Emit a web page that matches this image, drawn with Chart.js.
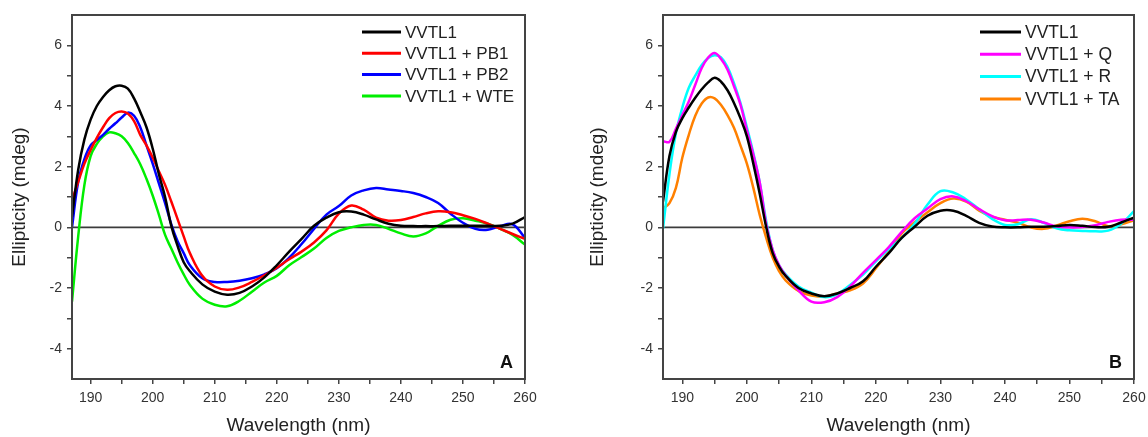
<!DOCTYPE html>
<html>
<head>
<meta charset="utf-8">
<script src="https://cdn.jsdelivr.net/npm/chart.js@4/dist/chart.umd.min.js"></script>
<style>
  body { margin: 0; background: #fff; }
  .panel { position: absolute; top: 0; width: 574px; height: 437px; }
</style>
</head>
<body>
<div class="panel" style="left:0"><canvas id="chartA" width="574" height="437"></canvas></div>
<div class="panel" style="left:574px"><canvas id="chartB" width="574" height="437"></canvas></div>
<script>
// wavelength grid (nm), shared by both panels
var wavelength = [187,188,189,190,191,192,193,194,195,196,197,198,199,200,201,202,203,204,205,206,
  208,210,212,214,216,218,220,222,224,226,228,230,232,234,236,238,240,242,244,246,248,250,252,254,256,258,260]

// panel A
var vvtl1A = [0.35,1.9,2.9,3.55,4.0,4.3,4.52,4.65,4.67,4.57,4.25,3.8,3.3,2.6,1.75,1.0,0.05,-0.6,-1.15,-1.45,
  -1.88,-2.12,-2.22,-2.16,-1.95,-1.65,-1.25,-0.8,-0.38,0.05,0.32,0.5,0.52,0.42,0.26,0.12,0.05,0.04,0.04,0.04,0.05,0.05,0.05,0.05,0.05,0.12,0.34]
var pb1 = [0.9,1.5,2.1,2.55,2.95,3.3,3.6,3.77,3.82,3.75,3.5,3.05,2.7,2.3,1.85,1.4,0.85,0.28,-0.3,-0.85,
  -1.6,-1.95,-2.06,-1.98,-1.8,-1.58,-1.33,-1.05,-0.8,-0.5,-0.1,0.45,0.72,0.58,0.32,0.22,0.24,0.34,0.46,0.53,0.5,0.4,0.28,0.12,-0.05,-0.22,-0.38]
var pb2 = [0.0,1.5,2.25,2.7,2.88,3.05,3.25,3.43,3.62,3.78,3.68,3.3,2.7,2.1,1.45,0.8,0.1,-0.45,-0.85,-1.25,
  -1.68,-1.8,-1.8,-1.76,-1.68,-1.55,-1.35,-1.0,-0.55,-0.05,0.42,0.7,1.05,1.22,1.3,1.25,1.2,1.13,1.0,0.8,0.45,0.15,-0.05,-0.08,0.04,0.1,-0.35]
var wte = [-2.45,-0.3,1.4,2.35,2.75,3.0,3.13,3.1,3.0,2.78,2.45,2.08,1.6,1.05,0.42,-0.25,-0.7,-1.15,-1.55,-1.9,
  -2.35,-2.55,-2.6,-2.42,-2.12,-1.82,-1.6,-1.25,-0.98,-0.7,-0.35,-0.12,0.0,0.08,0.08,-0.05,-0.2,-0.3,-0.2,0.05,0.25,0.3,0.22,0.12,-0.05,-0.25,-0.57]

// panel B
var vvtl1B = [0.85,2.35,3.15,3.6,3.95,4.27,4.55,4.78,4.93,4.8,4.52,4.1,3.6,3.0,2.1,1.1,0.0,-0.85,-1.3,-1.6,
  -2.0,-2.18,-2.27,-2.18,-2.0,-1.78,-1.3,-0.85,-0.35,0.02,0.38,0.55,0.55,0.38,0.15,0.03,0.0,0.0,0.02,0.02,0.04,0.08,0.05,0.01,0.02,0.16,0.32]
var q = [2.84,2.82,3.25,3.7,4.15,4.7,5.25,5.6,5.75,5.55,5.2,4.65,4.05,3.2,2.4,1.47,0.1,-0.75,-1.25,-1.58,
  -2.08,-2.45,-2.47,-2.3,-1.95,-1.5,-1.08,-0.65,-0.15,0.3,0.62,0.93,1.02,0.86,0.6,0.37,0.23,0.24,0.25,0.16,0.03,0.0,0.01,0.07,0.18,0.25,0.25]
var r = [-0.05,1.75,3.1,3.95,4.6,5.0,5.35,5.58,5.67,5.6,5.28,4.75,4.1,3.3,2.45,1.47,0.2,-0.75,-1.25,-1.55,
  -1.95,-2.15,-2.3,-2.2,-1.9,-1.56,-1.12,-0.72,-0.35,0.12,0.75,1.19,1.15,0.92,0.6,0.28,0.08,0.1,0.27,0.15,-0.03,-0.1,-0.12,-0.13,-0.11,0.12,0.53]
var ta = [0.62,0.8,1.3,2.3,3.05,3.68,4.08,4.28,4.25,4.03,3.7,3.28,2.7,2.1,1.3,0.4,-0.35,-1.0,-1.45,-1.75,
  -2.1,-2.25,-2.28,-2.18,-2.08,-1.85,-1.35,-0.8,-0.2,0.17,0.5,0.8,0.95,0.85,0.55,0.35,0.25,0.15,0.0,-0.05,0.06,0.2,0.28,0.2,0.04,0.1,0.23]

var xTicks = [190,195,200,205,210,215,220,225,230,235,240,245,250,255,260]
var yTicks = [-4,-3,-2,-1,0,1,2,3,4,5,6]

function pts(vals) {
  return wavelength.map(function(w, i) { return {x: w, y: vals[i]} })
}

function series(label, vals, color) {
  return {label: label, data: pts(vals), borderColor: color, backgroundColor: color,
    borderWidth: 2.5, pointRadius: 0, tension: 0.4, fill: false}
}

// frame, zero line, legend, panel letter
var decor = {
  id: 'decor',
  beforeDatasetsDraw: function(chart) {
    var a = chart.chartArea, ctx = chart.ctx
    var y0 = chart.scales.y.getPixelForValue(0)
    ctx.save()
    ctx.strokeStyle = '#3c3c3c'
    ctx.lineWidth = 1.8
    ctx.beginPath()
    ctx.moveTo(a.left, y0)
    ctx.lineTo(a.right, y0)
    ctx.stroke()
    ctx.restore()
  },
  afterDatasetsDraw: function(chart, args, opts) {
    var a = chart.chartArea, ctx = chart.ctx
    ctx.save()
    ctx.strokeStyle = '#444'
    ctx.lineWidth = 2
    ctx.strokeRect(a.left, a.top, a.right - a.left, a.bottom - a.top)

    ctx.font = opts.legendSize + 'px "Liberation Sans", Arial, sans-serif'
    ctx.textBaseline = 'middle'
    ctx.textAlign = 'left'
    chart.data.datasets.forEach(function(ds, i) {
      var y = a.top + opts.legendTop + i * opts.legendGap
      ctx.strokeStyle = ds.borderColor
      ctx.lineWidth = 3
      ctx.beginPath()
      ctx.moveTo(a.right - opts.lineStart, y)
      ctx.lineTo(a.right - opts.lineEnd, y)
      ctx.stroke()
      ctx.fillStyle = '#222'
      ctx.fillText(ds.label, a.right - opts.textStart, y + 1)
    })

    ctx.font = 'bold 18px "Liberation Sans", Arial, sans-serif'
    ctx.textAlign = 'right'
    ctx.textBaseline = 'alphabetic'
    ctx.fillStyle = '#111'
    ctx.fillText(opts.letter, a.right - 12, a.bottom - 11)
    ctx.restore()
  }
}

function makeChart(id, datasets, yWidth, rightPad, titlePad, deco) {
  return new Chart(document.getElementById(id), {
    type: 'line',
    data: {datasets: datasets},
    plugins: [decor],
    options: {
      responsive: false,
      animation: false,
      layout: {padding: {left: 0, right: rightPad, top: 15, bottom: 0}},
      plugins: {legend: {display: false}, tooltip: {enabled: false}, decor: deco},
      scales: {
        x: {
          type: 'linear', min: 187, max: 260,
          afterBuildTicks: function(s) { s.ticks = xTicks.map(function(v) { return {value: v} }) },
          afterFit: function(s) { s.height = 58; s.paddingRight = 0; s.paddingLeft = 0 },
          border: {display: false},
          grid: {drawOnChartArea: false, tickLength: 5, color: '#444', lineWidth: 1.5},
          ticks: {
            padding: 6, color: '#333', maxRotation: 0, autoSkip: false,
            font: {family: '"Liberation Sans", Arial, sans-serif', size: 14},
            callback: function(v) { return v % 10 === 0 ? String(v) : '' }
          },
          title: {display: true, text: 'Wavelength (nm)', color: '#222', padding: {top: 2, bottom: 0},
            font: {family: '"Liberation Sans", Arial, sans-serif', size: 19}}
        },
        y: {
          min: -5, max: 7,
          afterBuildTicks: function(s) { s.ticks = yTicks.map(function(v) { return {value: v} }) },
          afterFit: function(s) { s.width = yWidth },
          border: {display: false},
          grid: {drawOnChartArea: false, tickLength: 5, color: '#444', lineWidth: 1.5},
          ticks: {
            padding: 5, color: '#333', autoSkip: false,
            font: {family: '"Liberation Sans", Arial, sans-serif', size: 14},
            callback: function(v) { return v % 2 === 0 ? String(v) : '' }
          },
          title: {display: true, text: 'Ellipticity (mdeg)', color: '#222', padding: {top: titlePad, bottom: 0},
            font: {family: '"Liberation Sans", Arial, sans-serif', size: 19}}
        }
      }
    }
  })
}

makeChart('chartA', [
  series('VVTL1', vvtl1A, '#000000'),
  series('VVTL1 + PB1', pb1, '#ff0000'),
  series('VVTL1 + PB2', pb2, '#0000ff'),
  series('VVTL1 + WTE', wte, '#00ee00')
], 72, 49, 8, {legendTop: 17, legendGap: 21.3, lineStart: 163, lineEnd: 124, textStart: 120, legendSize: 17, letter: 'A'})

makeChart('chartB', [
  series('VVTL1', vvtl1B, '#000000'),
  series('VVTL1 + Q', q, '#ff00ff'),
  series('VVTL1 + R', r, '#00ffff'),
  series('VVTL1 + TA', ta, '#ff8000')
], 89, 14, 12, {legendTop: 17, legendGap: 22.3, lineStart: 154, lineEnd: 113, textStart: 109, legendSize: 17.5, letter: 'B'})
</script>
</body>
</html>
